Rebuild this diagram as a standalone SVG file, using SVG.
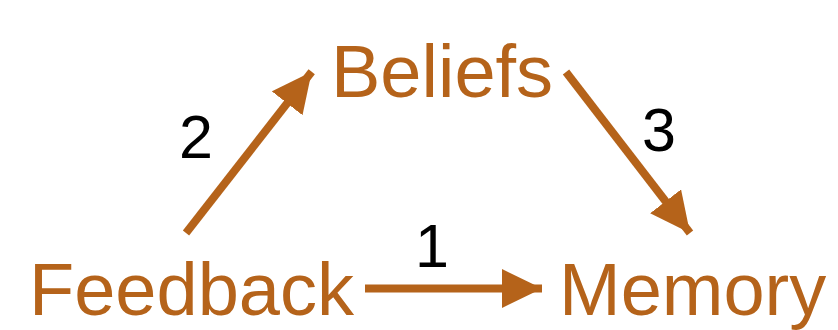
<svg xmlns="http://www.w3.org/2000/svg" width="838" height="330" viewBox="0 0 838 330">
<style>
.node{font-family:"Liberation Sans",Arial,sans-serif;font-size:74px;fill:#B5631A}
.num{font-family:"Liberation Sans",Arial,sans-serif;font-size:61px;fill:#000}
.edge{stroke:#B5631A;stroke-width:8;fill:none;marker-end:url(#ah)}
</style>
<defs>
<marker id="ah" markerUnits="userSpaceOnUse" markerWidth="42" markerHeight="40" refX="40" refY="19.5" orient="auto" viewBox="0 0 42 40">
<path d="M0,0 L40,19.5 L0,39 Z" fill="#B5631A"/>
</marker>
</defs>
<g id="edges">
<line class="edge" x1="365" y1="288.5" x2="542" y2="288.5"/>
<line class="edge" x1="186" y1="233" x2="311.7" y2="71.7"/>
<line class="edge" x1="566" y1="72" x2="690" y2="233"/>
</g>
<g id="labels">
<text class="num" x="415" y="267">1</text>
<text class="num" x="179" y="158">2</text>
<text class="num" x="642" y="151">3</text>
</g>
<g id="feedback"><text class="node" x="29" y="315">Feedback</text></g>
<g id="beliefs"><text class="node" x="331" y="97">Beliefs</text></g>
<g id="memory"><text class="node" x="559" y="315">Memory</text></g>
</svg>
